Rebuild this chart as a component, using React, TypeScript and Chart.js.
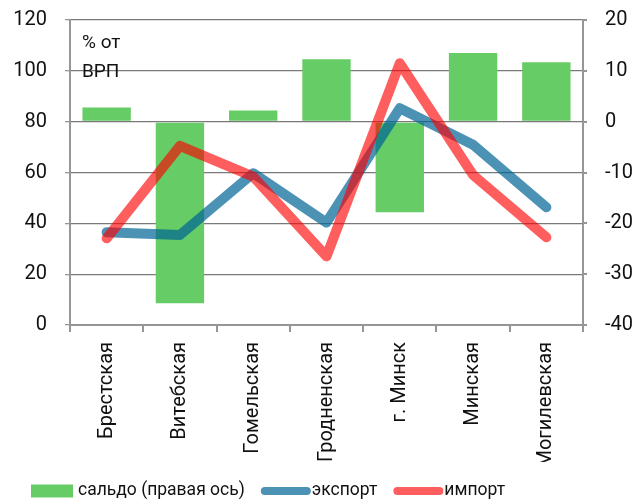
import React, { useEffect, useRef } from 'react';
import { Chart, registerables } from 'chart.js';
Chart.register(...registerables);

const categories = ['Брестская', 'Витебская', 'Гомельская', 'Гродненская', 'г. Минск', 'Минская', 'Могилевская'];
const saldo = [2.8, -35.7, 2.2, 12.3, -17.8, 13.5, 11.7];
const exportVals = [36.5, 35.4, 59.7, 40.3, 85.3, 70.9, 46.3];
const importVals = [34.1, 70.5, 58.4, 27, 103, 59, 34.5];
const legendLabels = ['сальдо (правая ось)', 'экспорт', 'импорт'];
const unitLabel = ['% от', 'ВРП'];

const GREEN = '#66cc66';
const BLUE = 'rgba(0,100,150,0.7)';
const RED = 'rgba(255,0,0,0.63)';
const FONT = 'Roboto';
const AXIS = '#969696';

const extrasPlugin = {
  id: 'extras',
  afterDraw(chart: any) {
    const ctx = chart.ctx;
    const ca = chart.chartArea;
    ctx.save();
    ctx.fillStyle = '#111';
    ctx.font = `19px ${FONT}`;
    ctx.textBaseline = 'middle';
    ctx.textAlign = 'left';
    ctx.fillText(unitLabel[0], ca.left + 12, ca.top + 23);
    ctx.fillText(unitLabel[1], ca.left + 12, ca.top + 52);

    // legend
    ctx.font = `17.5px ${FONT}`;
    const cy = chart.height - 11;
    let x = 31;
    const colors = [GREEN, BLUE, RED];
    legendLabels.forEach((lab, i) => {
      if (i === 0) {
        ctx.fillStyle = colors[i];
        ctx.fillRect(x, cy - 6.5, 42, 13);
        x += 47;
      } else {
        ctx.strokeStyle = colors[i];
        ctx.lineWidth = 8;
        ctx.lineCap = 'round';
        ctx.beginPath();
        ctx.moveTo(x + 4, cy);
        ctx.lineTo(x + 46, cy);
        ctx.stroke();
        x += 51;
      }
      ctx.fillStyle = '#111';
      ctx.fillText(lab, x, cy);
      x += ctx.measureText(lab).width + 16;
    });
    ctx.restore();
  },
};

export default function App() {
  const ref = useRef<HTMLCanvasElement>(null);
  useEffect(() => {
    if (!ref.current) return;
    const chart = new Chart(ref.current, {
      type: 'bar',
      data: {
        labels: categories,
        datasets: [
          {
            type: 'bar',
            label: legendLabels[0],
            data: saldo,
            yAxisID: 'y1',
            backgroundColor: GREEN,
            barPercentage: 0.66,
            categoryPercentage: 1,
            order: 3,
          } as any,
          {
            type: 'line',
            label: legendLabels[1],
            data: exportVals,
            yAxisID: 'y',
            borderColor: BLUE,
            borderWidth: 10,
            pointRadius: 0,
            tension: 0,
            borderCapStyle: 'round',
            borderJoinStyle: 'round',
            order: 2,
          },
          {
            type: 'line',
            label: legendLabels[2],
            data: importVals,
            yAxisID: 'y',
            borderColor: RED,
            borderWidth: 10,
            pointRadius: 0,
            tension: 0,
            borderCapStyle: 'round',
            borderJoinStyle: 'round',
            order: 1,
          },
        ],
      },
      options: {
        responsive: false,
        animation: false,
        layout: { padding: { top: 20, bottom: 40, left: 0, right: 0 } },
        plugins: { legend: { display: false }, tooltip: { enabled: false } },
        scales: {
          x: {
            grid: {
              offset: true,
              drawOnChartArea: false,
              drawTicks: true,
              tickLength: 7,
              color: AXIS,
              lineWidth: 2,
            },
            border: { color: AXIS, width: 2 },
            ticks: {
              minRotation: 90,
              maxRotation: 90,
              autoSkip: false,
              padding: 10,
              color: '#111',
              font: { family: FONT, size: 20 },
            },
            afterFit: (s: any) => {
              s.height = 137;
              s.paddingLeft = 0;
              s.paddingRight = 0;
            },
          },
          y: {
            position: 'left',
            min: 0,
            max: 120,
            ticks: {
              stepSize: 20,
              padding: 18,
              color: '#111',
              font: { family: FONT, size: 20 },
            },
            grid: {
              color: (c: any) => (c.tick && c.tick.value === 0 ? 'rgba(0,0,0,0)' : '#7a7a7a'),
              tickColor: AXIS,
              borderDash: [2, 2],
              tickBorderDash: [],
              tickLength: 5,
              lineWidth: 1.3,
            } as any,
            border: { color: AXIS, width: 2 } as any,
            afterFit: (s: any) => {
              s.width = 70;
              s.paddingTop = 0;
              s.paddingBottom = 0;
            },
          },
          y1: {
            position: 'right',
            min: -40,
            max: 20,
            ticks: {
              stepSize: 10,
              padding: 18,
              color: '#111',
              font: { family: FONT, size: 20 },
            },
            grid: {
              drawOnChartArea: false,
              tickLength: 4,
              color: AXIS,
              lineWidth: 2,
            },
            border: { color: AXIS, width: 2 },
            afterFit: (s: any) => {
              s.width = 55;
              s.paddingTop = 0;
              s.paddingBottom = 0;
            },
          },
        },
      },
      plugins: [extrasPlugin],
    });
    return () => chart.destroy();
  }, []);
  return (
    <div style={{ position: 'absolute', left: 0, top: 0, width: 638, height: 502, background: '#fff' }}>
      <canvas ref={ref} width={638} height={502} />
    </div>
  );
}
